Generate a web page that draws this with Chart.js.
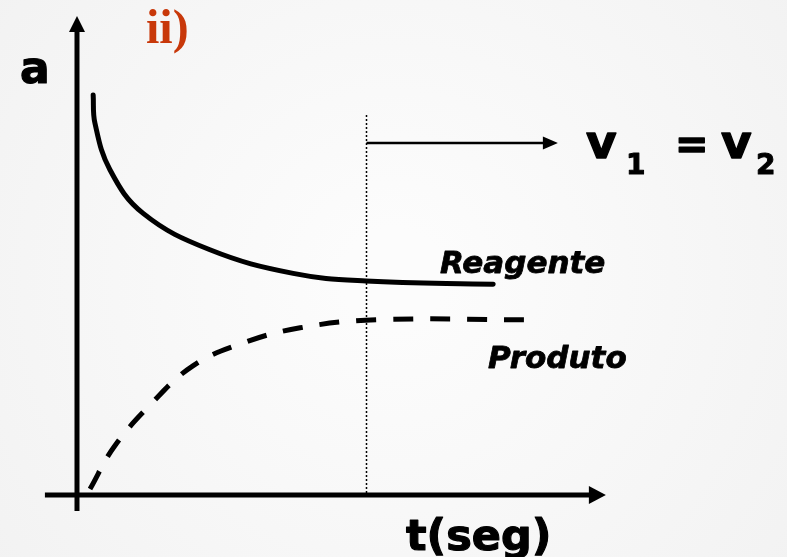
<!DOCTYPE html>
<html>
<head>
<meta charset="utf-8">
<script src="https://cdn.jsdelivr.net/npm/chart.js@4"></script>
<style>
  html, body { margin: 0; padding: 0; background: #f7f7f7; }
  #wrap { width: 787px; height: 557px; }
</style>
</head>
<body>
<div id="wrap"><canvas id="eqChart" width="787" height="557"></canvas></div>
<script>
// curve values (t in arbitrary time units, a = concentration)
const reagenteT = [0.56, 0.62, 1.14, 2.29, 4.6, 7.48, 10.0, 14.4];
const reagenteA = [10.0, 9.3, 8.13, 7.04, 6.13, 5.54, 5.35, 5.27];
const produtoT = [0.45, 1.28, 2.53, 4.01, 5.74, 7.72, 10.35, 15.61];
const produtoA = [0.15, 1.2, 2.25, 3.23, 3.8, 4.18, 4.38, 4.38];

const seriesNames = ["Reagente", "Produto"];
const equilibriumT = 10;

function toPoints(ts, as) {
  return ts.map((t, i) => ({x: t, y: as[i]}));
}

const bgPlugin = {
  id: "bg",
  beforeDraw(chart) {
    const {ctx, width, height} = chart;
    const g = ctx.createRadialGradient(width / 2, height / 2, 50, width / 2, height / 2, width * 0.7);
    g.addColorStop(0, "#fcfcfc");
    g.addColorStop(1, "#f1f1f1");
    ctx.save();
    ctx.fillStyle = g;
    ctx.fillRect(0, 0, width, height);
    ctx.restore();
  }
};

function arrowHead(ctx, x, y, dir, len, half) {
  ctx.beginPath();
  if (dir === "right") {
    ctx.moveTo(x, y);
    ctx.lineTo(x - len, y - half);
    ctx.lineTo(x - len, y + half);
  } else {
    ctx.moveTo(x, y);
    ctx.lineTo(x - half, y + len);
    ctx.lineTo(x + half, y + len);
  }
  ctx.closePath();
  ctx.fill();
}

// bold text with a thin outline so it looks as heavy as the original
function heavyText(ctx, txt, x, y, w) {
  ctx.lineWidth = w;
  ctx.strokeText(txt, x, y);
  ctx.fillText(txt, x, y);
}

const axesPlugin = {
  id: "drawnAxes",
  beforeDatasetsDraw(chart) {
    const {ctx} = chart;
    const xs = chart.scales.x, ys = chart.scales.y;
    const x0 = xs.getPixelForValue(0), y0 = ys.getPixelForValue(0);
    ctx.save();
    ctx.strokeStyle = "#000";
    ctx.fillStyle = "#000";
    ctx.lineWidth = 5;
    // t axis
    const xEnd = xs.getPixelForValue(18.3);
    ctx.beginPath();
    ctx.moveTo(xs.getPixelForValue(-1.11), y0);
    ctx.lineTo(xEnd - 10, y0);
    ctx.stroke();
    arrowHead(ctx, xEnd, y0, "right", 17, 9);
    // a axis
    const yEnd = ys.getPixelForValue(11.975);
    ctx.beginPath();
    ctx.moveTo(x0, ys.getPixelForValue(-0.4));
    ctx.lineTo(x0, yEnd + 10);
    ctx.stroke();
    arrowHead(ctx, x0, yEnd, "up", 16, 8);

    // dotted equilibrium line
    const xe = Math.round(xs.getPixelForValue(equilibriumT)) + 0.5;
    ctx.lineWidth = 1.5;
    ctx.setLineDash([2, 2]);
    ctx.beginPath();
    ctx.moveTo(xe, y0 - 2);
    ctx.lineTo(xe, ys.getPixelForValue(9.55));
    ctx.stroke();
    ctx.setLineDash([]);

    // arrow to v1 = v2
    const ya = ys.getPixelForValue(8.8);
    const xTip = xs.getPixelForValue(16.64);
    ctx.lineWidth = 2.5;
    ctx.beginPath();
    ctx.moveTo(xe, ya);
    ctx.lineTo(xTip - 8, ya);
    ctx.stroke();
    arrowHead(ctx, xTip, ya, "right", 15, 6.5);
    ctx.restore();
  },
  afterDatasetsDraw(chart) {
    const {ctx} = chart;
    ctx.save();
    ctx.fillStyle = "#000";
    ctx.strokeStyle = "#000";
    ctx.lineJoin = "round";
    ctx.textBaseline = "alphabetic";
    ctx.textAlign = "left";
    ctx.font = "bold 44px 'DejaVu Sans'";
    heavyText(ctx, "a", 20, 83, 1.2);
    ctx.font = "bold 43px 'DejaVu Sans'";
    heavyText(ctx, "t(seg)", 406, 550, 1.2);

    // v1 = v2
    ctx.font = "bold 47px 'DejaVu Sans'";
    heavyText(ctx, "v", 586, 158, 1.4);
    ctx.font = "bold 28px 'DejaVu Sans'";
    heavyText(ctx, "1", 626, 174, 1);
    ctx.font = "bold 40px 'DejaVu Sans'";
    heavyText(ctx, "=", 675, 158, 1.4);
    ctx.font = "bold 47px 'DejaVu Sans'";
    heavyText(ctx, "v", 721, 158, 1.4);
    ctx.font = "bold 28px 'DejaVu Sans'";
    heavyText(ctx, "2", 756, 174, 1);

    ctx.font = "italic bold 31px 'DejaVu Sans'";
    heavyText(ctx, seriesNames[0], 440, 273, 0.8);
    heavyText(ctx, seriesNames[1], 488, 368, 0.8);

    ctx.fillStyle = "#c8380a";
    ctx.font = "bold 48px 'Liberation Serif'";
    ctx.fillText("ii)", 146, 43);
    ctx.restore();
  }
};

const ctx = document.getElementById("eqChart");
new Chart(ctx, {
  type: "line",
  data: {
    datasets: [
      {
        label: seriesNames[0],
        data: toPoints(reagenteT, reagenteA),
        borderColor: "#000",
        borderWidth: 5,
        borderCapStyle: "round",
        tension: 0.4,
        pointRadius: 0,
        fill: false
      },
      {
        label: seriesNames[1],
        data: toPoints(produtoT, produtoA),
        borderColor: "#000",
        borderWidth: 5,
        borderDash: [20, 17],
        borderCapStyle: "butt",
        tension: 0.4,
        pointRadius: 0,
        fill: false
      }
    ]
  },
  options: {
    responsive: false,
    animation: false,
    devicePixelRatio: 1,
    layout: {padding: 0},
    plugins: {legend: {display: false}, tooltip: {enabled: false}},
    scales: {
      x: {type: "linear", min: -2.664, max: 24.567, display: false},
      y: {type: "linear", min: -1.55, max: 12.375, display: false}
    }
  },
  plugins: [bgPlugin, axesPlugin]
});
</script>
</body>
</html>
